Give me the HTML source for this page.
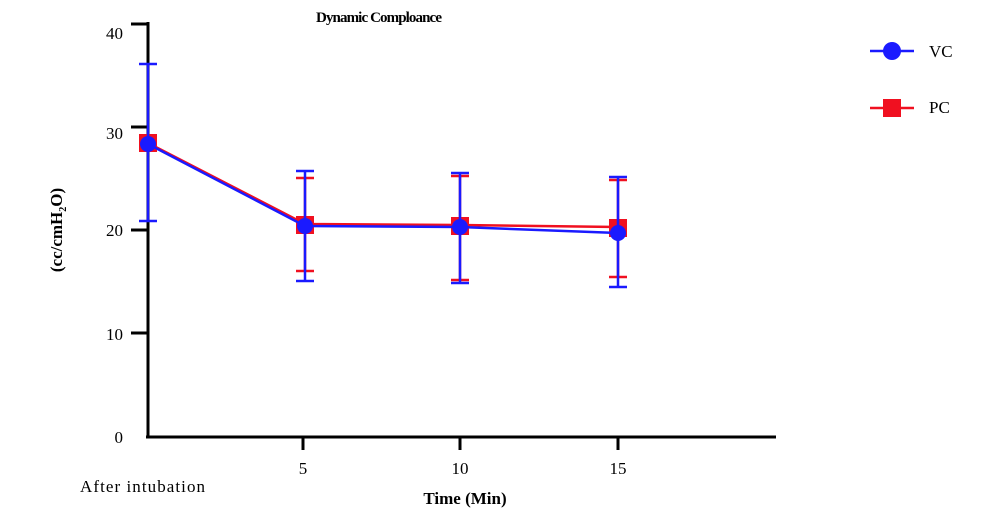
<!DOCTYPE html>
<html><head><style>body{margin:0;background:#fff}svg{display:block}</style></head><body>
<svg width="1000" height="514" xmlns="http://www.w3.org/2000/svg" font-family="Liberation Serif, serif">
<rect width="1000" height="514" fill="#fff"/>
<text x="379" y="22" font-size="15" font-weight="bold" text-anchor="middle" textLength="126">Dynamic Comploance</text>
<g stroke="#000" stroke-width="3">
<line x1="148" y1="22" x2="148" y2="438"/>
<line x1="146" y1="437" x2="776" y2="437"/>
<line x1="131" y1="24" x2="148" y2="24"/>
<line x1="131" y1="127" x2="148" y2="127"/>
<line x1="131" y1="230" x2="148" y2="230"/>
<line x1="131" y1="333" x2="148" y2="333"/>
<line x1="303" y1="437" x2="303" y2="450"/>
<line x1="460" y1="437" x2="460" y2="450"/>
<line x1="618" y1="437" x2="618" y2="450"/>
</g>
<g font-size="17" text-anchor="end">
<text x="123" y="39">40</text><text x="123" y="139">30</text><text x="123" y="236">20</text><text x="123" y="340">10</text><text x="123" y="443">0</text>
</g>
<g font-size="17" text-anchor="middle">
<text x="303" y="474">5</text><text x="460" y="474">10</text><text x="618" y="474">15</text>
</g>
<text x="80" y="492" font-size="17" textLength="125">After intubation</text>
<text x="465" y="504" font-size="17" font-weight="bold" text-anchor="middle">Time (Min)</text>
<text transform="translate(62,230) rotate(-90)" font-size="17" font-weight="bold" text-anchor="middle">(cc/cmH<tspan font-size="10" dy="4">2</tspan><tspan dy="-4">O)</tspan></text>
<g stroke="#f01020" stroke-width="2.5" fill="none">
<polyline points="148,143 305,224 460,225 618,227"/>
<line x1="305" y1="178" x2="305" y2="271"/><line x1="296" y1="178" x2="314" y2="178"/><line x1="296" y1="271" x2="314" y2="271"/>
<line x1="460" y1="176" x2="460" y2="280"/><line x1="451" y1="176" x2="469" y2="176"/><line x1="451" y1="280" x2="469" y2="280"/>
<line x1="618" y1="180" x2="618" y2="277"/><line x1="609" y1="180" x2="627" y2="180"/><line x1="609" y1="277" x2="627" y2="277"/>
</g>
<g fill="#f01020">
<rect x="139" y="134" width="18" height="18"/><rect x="296" y="216" width="18" height="18"/><rect x="451" y="217" width="18" height="18"/><rect x="609" y="219" width="18" height="18"/>
</g>
<g stroke="#1a1aff" stroke-width="2.5" fill="none">
<polyline points="148,144 305,226 460,227 618,233"/>
<line x1="148" y1="64" x2="148" y2="221"/><line x1="139" y1="64" x2="157" y2="64"/><line x1="139" y1="221" x2="157" y2="221"/>
<line x1="305" y1="171" x2="305" y2="281"/><line x1="296" y1="171" x2="314" y2="171"/><line x1="296" y1="281" x2="314" y2="281"/>
<line x1="460" y1="173" x2="460" y2="283"/><line x1="451" y1="173" x2="469" y2="173"/><line x1="451" y1="283" x2="469" y2="283"/>
<line x1="618" y1="177" x2="618" y2="287"/><line x1="609" y1="177" x2="627" y2="177"/><line x1="609" y1="287" x2="627" y2="287"/>
</g>
<g fill="#1a1aff">
<circle cx="148" cy="144" r="8"/><circle cx="305" cy="226" r="8"/><circle cx="460" cy="227" r="8"/><circle cx="618" cy="233" r="8"/>
</g>
<line x1="870" y1="51" x2="914" y2="51" stroke="#1a1aff" stroke-width="2.5"/>
<circle cx="892" cy="51" r="9" fill="#1a1aff"/>
<text x="929" y="57" font-size="17">VC</text>
<line x1="870" y1="108" x2="914" y2="108" stroke="#f01020" stroke-width="2.5"/>
<rect x="883" y="99" width="18" height="18" fill="#f01020"/>
<text x="929" y="113" font-size="17">PC</text>
</svg>
</body></html>
